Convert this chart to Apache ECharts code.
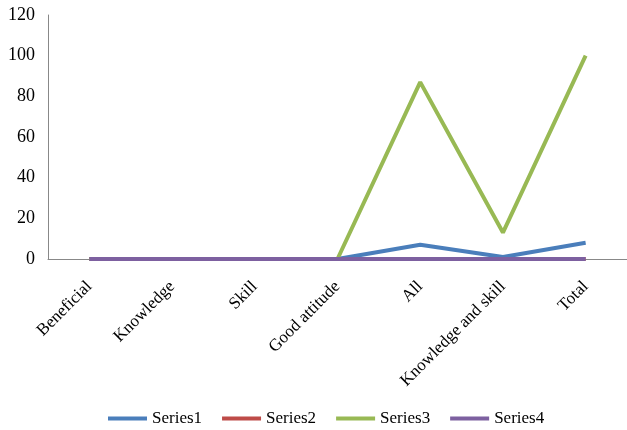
<!DOCTYPE html>
<html><head><meta charset="utf-8">
<script src="https://cdn.jsdelivr.net/npm/echarts@6/dist/echarts.min.js"></script>
<style>html,body{margin:0;padding:0;background:#fff}#c{width:627px;height:430px}</style>
</head><body><div id="c"></div>
<script>
var categories = ['Beneficial','Knowledge','Skill','Good attitude','All','Knowledge and skill','Total'];
var series1 = [0,0,0,0,7,1,8];
var series2 = [0,0,0,0,0,0,0];
var series3 = [0,0,0,0,87,13,100];
var series4 = [0,0,0,0,0,0,0];
var yTicks = {min:0, max:120, interval:20};
var names = ['Series1','Series2','Series3','Series4'];
var colors = ['#4A7EBB','#BE4B48','#98B954','#7D60A0'];
var data = [series1, series2, series3, series4];
var font = 'Liberation Serif, Times New Roman, serif';
var chart = echarts.init(document.getElementById('c'));
chart.setOption({
  animation:false,
  grid:{left:48, right:-3, top:15, bottom:171, containLabel:false},
  legend:{top:405, left:103, itemWidth:39, itemHeight:4, itemGap:20, icon:'rect',
    textStyle:{fontFamily:font, fontSize:17, color:'#000'}, data:names},
  xAxis:{type:'category', data:categories, boundaryGap:true,
    axisLine:{lineStyle:{color:'#888', width:1}}, axisTick:{show:false},
    axisLabel:{rotate:45, interval:0, fontFamily:font, fontSize:17, color:'#000', margin:25}},
  yAxis:{type:'value', min:yTicks.min, max:yTicks.max, interval:yTicks.interval,
    splitLine:{show:false}, axisLine:{show:true, lineStyle:{color:'#888', width:1}}, axisTick:{show:false},
    axisLabel:{fontFamily:font, fontSize:18, color:'#000', margin:13}},
  series: names.map(function(n,i){return {name:n, type:'line', data:data[i], showSymbol:false, symbol:'none',
    lineStyle:{color:colors[i], width:4}, itemStyle:{color:colors[i]}, z:2+i};})
});
</script></body></html>
